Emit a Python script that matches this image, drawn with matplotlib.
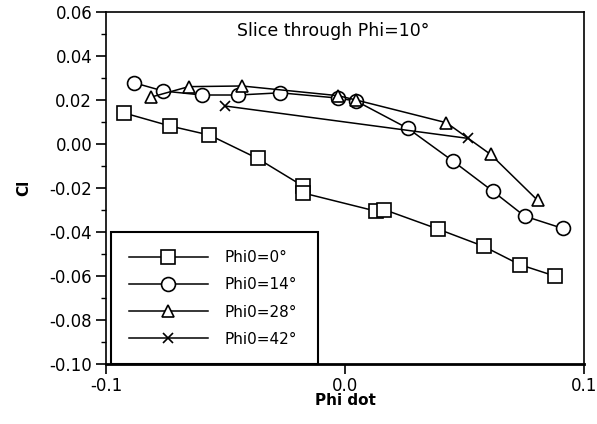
import matplotlib
matplotlib.use("Agg")
import matplotlib.pyplot as plt
from matplotlib.ticker import MultipleLocator

# Phi0 = 0 deg
phi_dot_0 = [-0.0926, -0.0731, -0.0567, -0.0366, -0.0175, -0.0175, 0.0132, 0.0163, 0.0390, 0.0580, 0.0731, 0.0881]
cl_0 = [0.0142, 0.0082, 0.0041, -0.0065, -0.0191, -0.0222, -0.0305, -0.0297, -0.0386, -0.0464, -0.0547, -0.0600]

# Phi0 = 14 deg
phi_dot_14 = [-0.0884, -0.0760, -0.0598, -0.0446, -0.0271, -0.0028, 0.0048, 0.0264, 0.0452, 0.0619, 0.0752, 0.0912]
cl_14 = [0.0279, 0.0241, 0.0223, 0.0223, 0.0233, 0.0209, 0.0195, 0.0071, -0.0077, -0.0214, -0.0327, -0.0383]

# Phi0 = 28 deg
phi_dot_28 = [-0.0810, -0.0654, -0.0431, -0.0029, 0.0048, 0.0425, 0.0610, 0.0807]
cl_28 = [0.0214, 0.0261, 0.0264, 0.0220, 0.0200, 0.0097, -0.0047, -0.0256]

# Phi0 = 42 deg
phi_dot_42 = [-0.0501, 0.0515]
cl_42 = [0.0173, 0.0026]

labels = ["Phi0=0°", "Phi0=14°", "Phi0=28°", "Phi0=42°"]

plt.rcParams['font.family'] = ['DejaVu Sans']
plt.rcParams['font.size'] = 11
plt.rcParams['axes.unicode_minus'] = False

fig = plt.figure(figsize=(5.97, 4.24), dpi=100)
ax = fig.add_axes([0.1776, 0.1408, 0.8004, 0.8309])

kw = dict(color='black', linewidth=1.1, markerfacecolor='white',
          markeredgecolor='black', markeredgewidth=1.2)
ax.plot(phi_dot_0, cl_0, marker='s', markersize=9.5, label=labels[0], **kw)
ax.plot(phi_dot_14, cl_14, marker='o', markersize=10, label=labels[1], **kw)
ax.plot(phi_dot_28, cl_28, marker='^', markersize=9, label=labels[2], **kw)
ax.plot(phi_dot_42, cl_42, marker='x', markersize=7, label=labels[3], **kw)

ax.set_xlim(-0.1, 0.1)
ax.set_ylim(-0.10, 0.06)
ax.set_xticks([-0.1, 0.0, 0.1])
ax.set_xticklabels(['-0.1', '0.0', '0.1'])
ax.yaxis.set_major_locator(MultipleLocator(0.02))
ax.yaxis.set_minor_locator(MultipleLocator(0.01))
ax.yaxis.set_major_formatter(plt.FuncFormatter(lambda v, p: "0.00" if abs(v) < 1e-9 else f"{v:.2f}"))
ax.tick_params(axis='both', which='major', direction='out', length=7, width=1.2,
               labelsize=12, pad=3)
ax.tick_params(axis='x', which='major', pad=2)
ax.tick_params(axis='y', which='minor', direction='out', length=3.5, width=1.0)
for s in ax.spines.values():
    s.set_linewidth(1.2)
ax.spines['bottom'].set_linewidth(2.0)

ax.text(0.275, 0.945, "Slice through Phi=10°", transform=ax.transAxes,
        fontsize=12.5, ha='left', va='center')

ax.set_xlabel("Phi dot", fontweight='bold', fontsize=11, labelpad=-1)
ax.set_ylabel("Cl", fontweight='bold', fontsize=11, labelpad=13)

leg = ax.legend(loc='lower left', bbox_to_anchor=(0.0105, 0.0, 0.433, 0.366),
                mode='expand', fancybox=False, framealpha=1, edgecolor='black',
                handlelength=5.2, labelspacing=0.8, borderpad=1.15, borderaxespad=0,
                fontsize=11, handletextpad=1.1)
leg.get_frame().set_linewidth(1.5)

fig.savefig("out.png", dpi=100)
